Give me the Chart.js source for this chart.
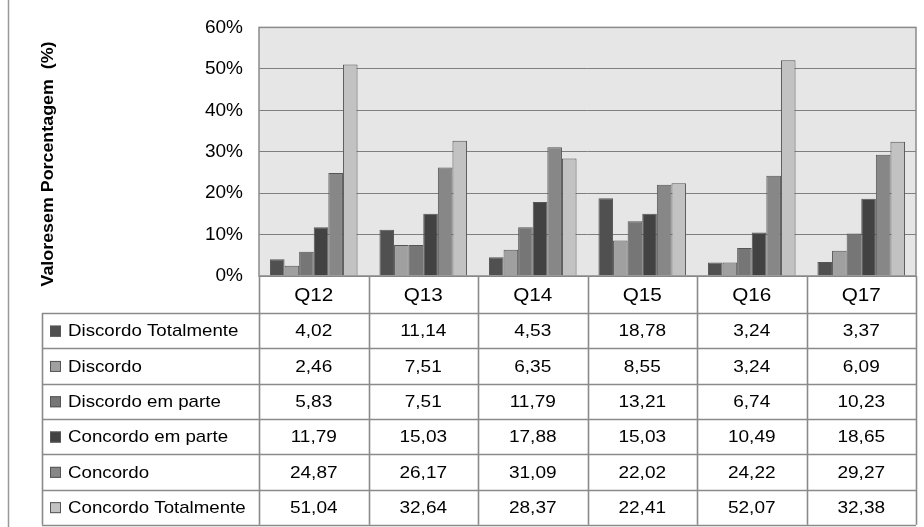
<!DOCTYPE html>
<html>
<head>
<meta charset="utf-8">
<script src="https://cdn.jsdelivr.net/npm/chart.js@4.4.0/dist/chart.umd.min.js"></script>
<style>
  html, body { margin: 0; padding: 0; background: #fff; }
  #wrap { width: 924px; height: 527px; position: relative; }
</style>
</head>
<body>
<div id="wrap"><canvas id="chart"></canvas></div>
<script>
// --- data ---
const categories = ["Q12", "Q13", "Q14", "Q15", "Q16", "Q17"];
const seriesNames = [
  "Discordo Totalmente",
  "Discordo",
  "Discordo em parte",
  "Concordo em parte",
  "Concordo",
  "Concordo Totalmente",
];
const discordoTotalmente = [4.02, 11.14, 4.53, 18.78, 3.24, 3.37];
const discordo = [2.46, 7.51, 6.35, 8.55, 3.24, 6.09];
const discordoEmParte = [5.83, 7.51, 11.79, 13.21, 6.74, 10.23];
const concordoEmParte = [11.79, 15.03, 17.88, 15.03, 10.49, 18.65];
const concordo = [24.87, 26.17, 31.09, 22.02, 24.22, 29.27];
const concordoTotalmente = [51.04, 32.64, 28.37, 22.41, 52.07, 32.38];
const yTicks = [0, 10, 20, 30, 40, 50, 60];
const yTitle = "Valoresem Porcentagem  (%)";

const seriesValues = [
  discordoTotalmente,
  discordo,
  discordoEmParte,
  concordoEmParte,
  concordo,
  concordoTotalmente,
];
const fills = ["#505050", "#a0a0a0", "#767676", "#424242", "#878787", "#c2c2c2"];

const FONT = "'Liberation Sans', Arial, sans-serif";
const LINE = "#8a8a8a";

// text a little wider than the font, like the original export
function stretchText(ctx, text, x, y, align, sx) {
  ctx.save();
  ctx.translate(x, y);
  ctx.scale(sx, 1);
  ctx.textAlign = align;
  ctx.fillText(text, 0, 0);
  ctx.restore();
}

// plot background + frame + axis title
const backgroundPlugin = {
  id: "plotBg",
  beforeDraw(chart) {
    const { ctx, chartArea: a } = chart;
    ctx.save();
    ctx.fillStyle = "#e6e6e6";
    ctx.fillRect(a.left, a.top, a.right - a.left, a.bottom - a.top);
    // outer frame, left edge
    ctx.strokeStyle = "#999";
    ctx.lineWidth = 1.5;
    ctx.beginPath();
    ctx.moveTo(8.5, 0);
    ctx.lineTo(8.5, chart.height);
    ctx.stroke();
    // y title
    ctx.translate(48, 164);
    ctx.rotate(-Math.PI / 2);
    ctx.fillStyle = "#000";
    ctx.font = "bold 17px " + FONT;
    ctx.textAlign = "center";
    ctx.textBaseline = "middle";
    ctx.scale(1.05, 1);
    ctx.fillText(yTitle, 0, 0);
    ctx.restore();
  },
  afterDatasetsDraw(chart) {
    const { ctx, chartArea: a } = chart;
    ctx.save();
    ctx.strokeStyle = LINE;
    ctx.lineWidth = 1.5;
    ctx.strokeRect(a.left, a.top, a.right - a.left, a.bottom - a.top);
    ctx.restore();
  },
};

// data table under the plot, columns follow the x scale
const tablePlugin = {
  id: "dataTable",
  afterDraw(chart) {
    const { ctx, chartArea: a } = chart;
    const x = chart.scales.x;
    const colW = (a.right - a.left) / categories.length;
    const headerTop = a.bottom;
    const rowsTop = 313;
    const rowH = 35.3;
    const tableLeft = 42;
    const tableBottom = rowsTop + rowH * seriesNames.length;

    ctx.save();
    ctx.strokeStyle = LINE;
    ctx.lineWidth = 1.6;

    // column lines
    for (let i = 0; i <= categories.length; i++) {
      const cx = Math.round(a.left + colW * i) + 0.5;
      ctx.beginPath();
      ctx.moveTo(cx, headerTop);
      ctx.lineTo(cx, tableBottom);
      ctx.stroke();
    }
    // legend column left edge
    ctx.beginPath();
    ctx.moveTo(tableLeft + 0.5, rowsTop);
    ctx.lineTo(tableLeft + 0.5, tableBottom);
    ctx.stroke();
    // row lines
    for (let r = 0; r <= seriesNames.length; r++) {
      const ry = Math.round(rowsTop + rowH * r) + 0.5;
      ctx.beginPath();
      ctx.moveTo(tableLeft, ry);
      ctx.lineTo(a.right, ry);
      ctx.stroke();
    }

    ctx.fillStyle = "#000";
    ctx.font = "18px " + FONT;
    ctx.textBaseline = "middle";
    categories.forEach((c, i) => {
      stretchText(ctx, c, x.getPixelForValue(i), (headerTop + rowsTop) / 2 + 2, "center", 1.15);
    });

    ctx.font = "17px " + FONT;
    seriesNames.forEach((name, r) => {
      const cy = rowsTop + rowH * r + rowH / 2 + 1;
      // legend key
      ctx.fillStyle = fills[r];
      ctx.fillRect(50, cy - 6, 11, 11);
      ctx.strokeStyle = "#555";
      ctx.lineWidth = 1;
      ctx.strokeRect(50.5, cy - 5.5, 10, 10);
      ctx.fillStyle = "#000";
      stretchText(ctx, name, 68, cy, "left", 1.1);
      seriesValues[r].forEach((v, i) => {
        stretchText(ctx, v.toFixed(2).replace(".", ","), x.getPixelForValue(i), cy, "center", 1.12);
      });
    });
    ctx.restore();
  },
};

new Chart(document.getElementById("chart"), {
  type: "bar",
  data: {
    labels: categories,
    datasets: seriesNames.map((name, i) => ({
      label: name,
      data: seriesValues[i],
      backgroundColor: fills[i],
      borderColor: "#555555",
      borderWidth: 1,
      categoryPercentage: 0.8,
      barPercentage: 1.0,
    })),
  },
  options: {
    responsive: true,
    maintainAspectRatio: false,
    animation: false,
    layout: { padding: { left: 30, top: 27, right: 8, bottom: 251 } },
    plugins: {
      legend: { display: false },
      tooltip: { enabled: false },
    },
    scales: {
      x: {
        ticks: { display: false },
        grid: { display: false, drawTicks: false },
        border: { display: false },
      },
      y: {
        min: 0,
        max: 60,
        afterFit: (scale) => { scale.width = 229; },
        afterBuildTicks: (scale) => {
          scale.ticks = yTicks.map((v) => ({ value: v }));
        },
        ticks: {
          padding: 16,
          color: "#000",
          font: { family: FONT, size: 19 },
          callback: (v) => v + "%",
        },
        grid: { color: "#7f7f7f", lineWidth: 1, drawTicks: false },
        border: { display: false },
      },
    },
  },
  plugins: [backgroundPlugin, tablePlugin],
});
</script>
</body>
</html>
